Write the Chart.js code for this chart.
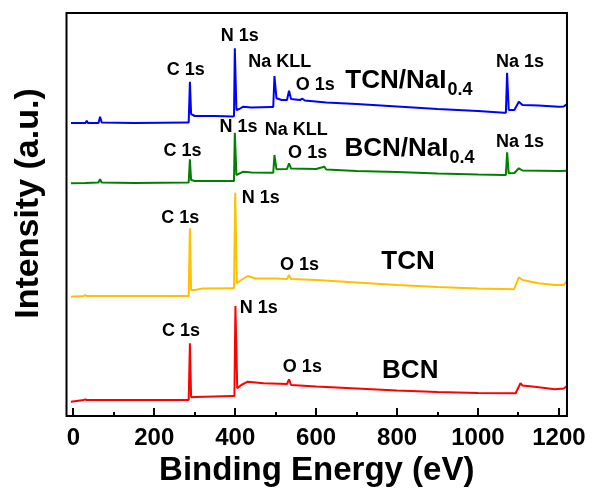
<!DOCTYPE html>
<html>
<head>
<meta charset="utf-8">
<title>XPS survey spectra</title>
<script src="https://cdn.jsdelivr.net/npm/chart.js"></script>
<style>
  html, body { margin: 0; padding: 0; background: #fff; }
  #wrap { width: 594px; height: 493px; }
</style>
</head>
<body>
<div id="wrap"><canvas id="xps"></canvas></div>
<script>
const FONT = '"Liberation Sans", Arial, sans-serif';

const xTicks = [0, 200, 400, 600, 800, 1000, 1200];
const xMinorTicks = [100, 300, 500, 700, 900, 1100];

// TCN/NaI0.4 (blue)
const tcnNaIEnergy = [-6, 30, 33, 36, 62, 66, 70, 150, 282, 285, 288, 291, 300, 350, 394, 397, 399, 403, 410, 420, 440, 490,
  494, 497, 502, 515, 528, 533, 538, 560, 566, 572, 625, 700, 800, 900, 1000, 1064, 1069, 1072, 1076, 1090, 1101, 1110, 1150, 1200, 1212, 1220];
const tcnNaIIntensity = [293, 293, 295.3, 293, 293, 299.3, 293.5, 293, 293.5, 293.5, 334.3, 302, 300, 300, 299.5, 300, 367.7, 306, 307, 309.3, 308.5, 309,
  309, 340, 317.7, 316, 316, 325.3, 317, 316, 317.3, 315.5, 313.5, 312, 309.5, 307, 305, 303.3, 303.3, 343.3, 306, 306, 314.3, 311, 310.5, 309.3, 309.5, 312];

// BCN/NaI0.4 (green)
const bcnNaIEnergy = [-6, 30, 62, 66, 70, 150, 283, 285, 288, 291, 300, 394, 397, 399, 403, 420, 440, 494,
  497, 502, 528, 533, 538, 600, 620, 625, 700, 800, 900, 1000, 1064, 1069, 1072, 1076, 1090, 1101, 1110, 1200, 1220];
const bcnNaIIntensity = [232.7, 233, 233.5, 236.7, 233.5, 233, 233.5, 233.5, 256.7, 236, 235, 235, 235, 283.3, 241, 244.3, 243.5, 243.3,
  261, 246.7, 247, 252.7, 247.5, 247, 249.3, 246.5, 245, 244, 242.5, 241.5, 241, 241, 263.7, 242.7, 243, 247.7, 245.5, 245, 245.3];

// TCN (yellow)
const tcnEnergy = [-6, 26, 29, 33, 150, 283, 285, 288, 291, 300, 320, 394, 397, 400, 404, 415, 431, 450, 500, 528, 533, 538,
  600, 700, 800, 900, 1000, 1089, 1101, 1110, 1150, 1190, 1212, 1220];
const tcnIntensity = [119.3, 120, 121, 120, 120, 120, 120, 187.7, 126, 126, 127.5, 127.7, 127.7, 223.3, 132.7, 136, 140, 137.5, 137.5, 137, 141, 137,
  136, 133.5, 131, 129, 127.5, 126.7, 138.7, 136, 132.7, 131, 131, 135];

// BCN (red)
const bcnEnergy = [-6, 26, 29, 33, 150, 283, 285, 288, 291, 300, 394, 398, 400.5, 405, 415, 431, 470, 528, 533, 538,
  600, 700, 800, 900, 1000, 1093, 1105, 1110, 1140, 1190, 1212, 1220];
const bcnIntensity = [14.3, 16, 16.7, 16, 16, 16, 16, 72.7, 18.7, 19, 20, 20, 110, 27.7, 31, 34.3, 32.7, 32, 36.7, 31,
  29.5, 27.5, 25.5, 24, 23, 22.7, 32.7, 30.5, 29.3, 26.7, 27.5, 30];

// peak annotations (centre of text, in eV / a.u.)
const peakText = ['C 1s', 'N 1s', 'Na KLL', 'O 1s', 'Na 1s',
  'C 1s', 'N 1s', 'Na KLL', 'O 1s', 'Na 1s',
  'C 1s', 'N 1s', 'O 1s',
  'C 1s', 'N 1s', 'O 1s'];
const peakEnergy = [278, 411, 510, 598, 1104,
  270, 408, 551, 579, 1104,
  264, 463, 559,
  266, 458, 566];
const peakIntensity = [346, 380, 354, 331, 354,
  265, 289, 286, 263, 274,
  198, 218, 151,
  85, 108, 49];

// sample names (left edge / baseline, in eV / a.u.)
const sampleName = ['TCN/NaI', 'BCN/NaI', 'TCN', 'BCN'];
const sampleSub = ['0.4', '0.4', '', ''];
const sampleEnergy = [672, 670, 761, 763];
const sampleIntensity = [328.5, 260.5, 146.7, 38.3];

const toPoints = (xs, ys) => xs.map((v, i) => ({x: v, y: ys[i]}));

const decorations = {
  id: 'decorations',
  afterDatasetsDraw(chart) {
    const {ctx, chartArea: a, scales: {x, y}} = chart;
    ctx.save();
    ctx.strokeStyle = '#000';
    ctx.lineWidth = 2;
    ctx.beginPath();
    xTicks.forEach(v => {
      const px = Math.round(x.getPixelForValue(v));
      ctx.moveTo(px, a.bottom);
      ctx.lineTo(px, a.bottom - 8);
    });
    xMinorTicks.forEach(v => {
      const px = Math.round(x.getPixelForValue(v));
      ctx.moveTo(px, a.bottom);
      ctx.lineTo(px, a.bottom - 4);
    });
    ctx.stroke();
    ctx.strokeRect(a.left, a.top, a.right - a.left, a.bottom - a.top);

    ctx.fillStyle = '#000';
    ctx.textAlign = 'center';
    ctx.textBaseline = 'middle';
    ctx.font = 'bold 18px ' + FONT;
    peakText.forEach((t, i) => {
      ctx.fillText(t, x.getPixelForValue(peakEnergy[i]), y.getPixelForValue(peakIntensity[i]));
    });

    ctx.textAlign = 'left';
    ctx.textBaseline = 'alphabetic';
    sampleName.forEach((t, i) => {
      const px = x.getPixelForValue(sampleEnergy[i]);
      const py = y.getPixelForValue(sampleIntensity[i]);
      ctx.font = 'bold 26px ' + FONT;
      ctx.fillText(t, px, py);
      if (sampleSub[i]) {
        const w = ctx.measureText(t).width;
        ctx.font = 'bold 18px ' + FONT;
        ctx.fillText(sampleSub[i], px + w + 1, py + 7);
      }
    });

    // y axis title
    ctx.translate(28.5, (a.top + a.bottom) / 2 - 11);
    ctx.rotate(-Math.PI / 2);
    ctx.textAlign = 'center';
    ctx.textBaseline = 'middle';
    ctx.font = 'bold 34px ' + FONT;
    ctx.fillText('Intensity (a.u.)', 0, 0);
    ctx.restore();
  }
};

const line = (data, color) => ({
  data: data,
  borderColor: color,
  backgroundColor: color,
  borderWidth: 2,
  pointRadius: 0,
  tension: 0,
  borderJoinStyle: 'bevel',
  fill: false
});

new Chart(document.getElementById('xps'), {
  type: 'line',
  data: {
    datasets: [
      line(toPoints(bcnEnergy, bcnIntensity), '#ff0000'),
      line(toPoints(tcnEnergy, tcnIntensity), '#ffc000'),
      line(toPoints(bcnNaIEnergy, bcnNaIIntensity), '#008000'),
      line(toPoints(tcnNaIEnergy, tcnNaIIntensity), '#0000ff')
    ]
  },
  options: {
    responsive: true,
    maintainAspectRatio: false,
    animation: false,
    devicePixelRatio: 1,
    layout: { padding: { top: 13, right: 26, left: 0, bottom: 0 } },
    plugins: { legend: { display: false }, tooltip: { enabled: false } },
    scales: {
      x: {
        type: 'linear',
        min: -17,
        max: 1220,
        afterBuildTicks: s => { s.ticks = xTicks.map(v => ({value: v})); },
        afterFit: s => { s.height = 77; },
        grid: { display: false, drawTicks: false },
        border: { display: false },
        ticks: {
          padding: 8,
          color: '#000',
          maxRotation: 0,
          callback: v => String(v),
          font: { family: FONT, size: 24, weight: 'bold' }
        },
        title: {
          display: true,
          text: 'Binding Energy (eV)',
          color: '#000',
          padding: { top: 0, bottom: 2 },
          font: { family: FONT, size: 33, weight: 'bold' }
        }
      },
      y: {
        type: 'linear',
        min: 0,
        max: 403,
        afterFit: s => { s.width = 66.5; },
        grid: { display: false, drawTicks: false },
        border: { display: false },
        ticks: { display: false }
      }
    }
  },
  plugins: [decorations]
});
</script>
</body>
</html>
